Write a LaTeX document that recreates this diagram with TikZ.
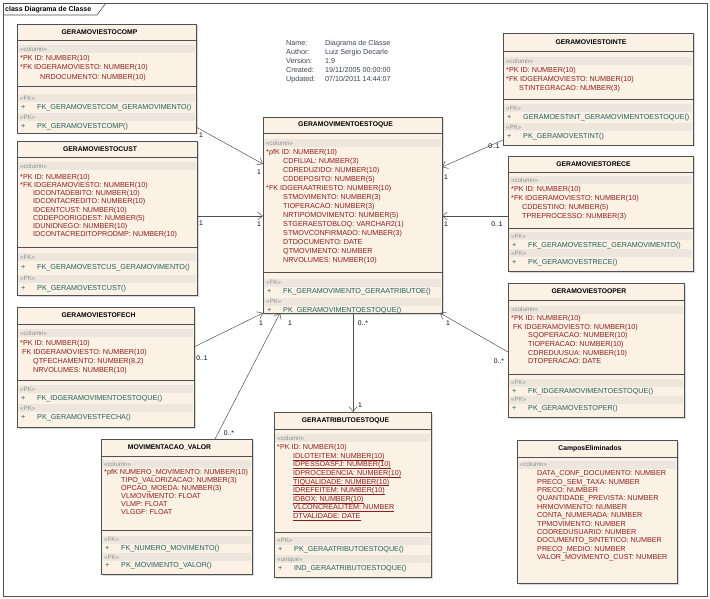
\documentclass[tikz,border=0pt]{standalone}
\usepackage{fontspec}
\setmainfont{Liberation Sans}
\usepackage{tikz}
\usetikzlibrary{arrows.meta,shadows}

\definecolor{boxfill}{HTML}{FBF1E4}
\definecolor{bandfill}{HTML}{ECE6DD}
\definecolor{colred}{HTML}{8E1D1D}
\definecolor{opteal}{HTML}{1F5E5E}
\definecolor{stgray}{HTML}{8C8C8C}
\definecolor{infoclr}{HTML}{3B4256}
\definecolor{lineclr}{HTML}{505050}

\newcommand{\rowfont}{\fontsize{7.2}{8}\selectfont}
\newcommand{\ttlfont}{\fontsize{6.8}{8}\selectfont\bfseries}
\newcommand{\stfont}{\fontsize{6.2}{7}\selectfont}
\newcommand{\multfont}{\fontsize{6.8}{8}\selectfont}
% underlined column (rule just under the text)
\newcommand{\ucol}[1]{\setbox0\hbox{#1}\rlap{\rule[-1.9pt]{\wd0}{0.45pt}}\box0}

% class frame: name, left, top, right, bottom, title line, title
\newcommand{\umlclass}[7]{%
  \node[classbox,minimum width={(#4-#2)*1pt},minimum height={(#5-#3)*1pt}] (#1) at (#2,#3) {};
  \draw[boxline] (#2,#6) -- (#4,#6);
  \node[classtitle] (#1-title) at ({(#2+#4)/2-7},{(#3+#6)/2}) {#7};
}
% stereotype band: name, left, right, y, text
\newcommand{\umlband}[5]{%
  \fill[bandfill] (#2+1,#4-4) rectangle (#3-1,#4+4);
  \node[stereo] (#1) at (#2+3,#4) {#5};
}
% columns: name, left, first y, step, indent/text
\newcommand{\umlcols}[5]{%
  \foreach \dx/\txt [count=\i from 0] in {#5} {
    \node[coltxt] (#1-c\i) at (#2+\dx,#3+\i*#4) {\txt};
  }
}
% operation: name, left, y, text
\newcommand{\umlop}[4]{%
  \node[optxt] (#1-plus) at (#2+4,#3) {+};
  \node[optxt] (#1) at (#2+20,#3) {#4};
}
% compartment line: left, right, y
\newcommand{\umlsep}[3]{\draw[boxline] (#1,#3) -- (#2,#3);}

\begin{document}
\begin{tikzpicture}[x=1pt,y=-1pt,
  classbox/.style={draw=lineclr,fill=boxfill,line width=0.6pt,anchor=north west,inner sep=0pt,outer sep=0pt,
    drop shadow={shadow xshift=1.5pt,shadow yshift=-1.5pt,fill=black!30}},
  boxline/.style={draw=lineclr,line width=0.6pt},
  classtitle/.style={font=\ttlfont,inner sep=0pt},
  stereo/.style={font=\stfont,text=stgray,anchor=west,inner sep=0pt,text height=4.4pt,text depth=0pt},
  coltxt/.style={font=\rowfont,text=colred,anchor=west,inner sep=0pt,text height=5.2pt,text depth=0pt},
  optxt/.style={font=\rowfont,text=opteal,anchor=west,inner sep=0pt,text height=5.2pt,text depth=0pt},
  infotxt/.style={font=\rowfont,text=infoclr,anchor=west,inner sep=0pt,text height=5.2pt,text depth=0pt},
  assoc/.style={draw=lineclr,line width=0.5pt,-{Straight Barb[length=5pt,width=8pt]}},
  mult/.style={font=\multfont,inner sep=0pt}]
\useasboundingbox (0,0) rectangle (710,599);

% frame
\draw[boxline] (3,3) rectangle (707,596);
\draw[boxline] (3,15) -- (97,15) -- (106,3);
\node[font=\fontsize{7}{8}\selectfont\bfseries,anchor=west,inner sep=0pt] (frame) at (5,9.5) {class Diagrama de Classe};

% diagram info
\foreach \k/\v [count=\i from 0] in {Name:/Diagrama de Classe,Author:/Luiz Sergio Decarle,Version:/1.9,
  Created:/{19/11/2005 00:00:00},Updated:/{07/10/2011 14:44:07}} {
  \node[infotxt] (info-k\i) at (286,43+\i*9) {\k};
  \node[infotxt] (info-v\i) at (325,43+\i*9) {\v};
}

% GERAMOVIESTOCOMP
\umlclass{comp}{17}{24}{196}{133}{40}{GERAMOVIESTOCOMP}
\umlband{comp-col}{17}{196}{49}{«column»}
\umlcols{comp}{17}{57.5}{9.5}{3/{*PK ID: NUMBER(10)},3/{*FK IDGERAMOVIESTO: NUMBER(10)},23/{NRDOCUMENTO: NUMBER(10)}}
\umlsep{17}{196}{86}
\umlband{comp-fk}{17}{196}{98}{«FK»}
\umlop{comp-op1}{17}{107}{FK\_GERAMOVESTCOM\_GERAMOVIMENTO()}
\umlband{comp-pk}{17}{196}{117}{«PK»}
\umlop{comp-op2}{17}{126}{PK\_GERAMOVESTCOMP()}

% GERAMOVIESTOCUST
\umlclass{cust}{17}{141}{197}{295}{157}{GERAMOVIESTOCUST}
\umlband{cust-col}{17}{197}{166}{«column»}
\umlcols{cust}{17}{176.5}{8.25}{3/{*PK ID: NUMBER(10)},3/{*FK IDGERAMOVIESTO: NUMBER(10)},16/{IDCONTADEBITO: NUMBER(10)},
  16/{IDCONTACREDITO: NUMBER(10)},16/{IDCENTCUST: NUMBER(10)},16/{CDDEPOORIGDEST: NUMBER(5)},
  16/{IDUNIDNEGO: NUMBER(10)},16/{IDCONTACREDITOPRODMP: NUMBER(10)}}
\umlsep{17}{197}{247}
\umlband{cust-fk}{17}{197}{257}{«FK»}
\umlop{cust-op1}{17}{266.5}{FK\_GERAMOVESTCUS\_GERAMOVIMENTO()}
\umlband{cust-pk}{17}{197}{278.5}{«PK»}
\umlop{cust-op2}{17}{288}{PK\_GERAMOVESTCUST()}

% GERAMOVIESTOFECH
\umlclass{fech}{17}{307}{194}{427}{324}{GERAMOVIESTOFECH}
\umlband{fech-col}{17}{194}{333}{«column»}
\umlcols{fech}{17}{343}{9}{3/{*PK ID: NUMBER(10)},5/{FK IDGERAMOVIESTO: NUMBER(10)},16/{QTFECHAMENTO: NUMBER(8,2)},
  16/{NRVOLUMES: NUMBER(10)}}
\umlsep{17}{194}{380}
\umlband{fech-fk}{17}{194}{389}{«PK»}
\umlop{fech-op1}{17}{398}{FK\_IDGERAMOVIMENTOESTOQUE()}
\umlband{fech-pk}{17}{194}{408}{«PK»}
\umlop{fech-op2}{17}{417}{PK\_GERAMOVESTFECHA()}

% MOVIMENTACAO_VALOR
\umlclass{valor}{101}{439}{252}{574}{456}{MOVIMENTACAO\_VALOR}
\umlband{valor-col}{101}{252}{464}{«column»}
\umlcols{valor}{101}{471.5}{8}{3/{*pfK NUMERO\_MOVIMENTO: NUMBER(10)},20/{TIPO\_VALORIZACAO: NUMBER(3)},
  20/{OPCAO\_MOEDA: NUMBER(3)},20/{VLMOVIMENTO: FLOAT},20/{VLMP: FLOAT},20/{VLGGF: FLOAT}}
\umlsep{101}{252}{530}
\umlband{valor-fk}{101}{252}{539.5}{«FK»}
\umlop{valor-op1}{101}{547.5}{FK\_NUMERO\_MOVIMENTO()}
\umlband{valor-pk}{101}{252}{557}{«PK»}
\umlop{valor-op2}{101}{565}{PK\_MOVIMENTO\_VALOR()}

% GERAMOVIMENTOESTOQUE
\umlclass{mov}{263}{117}{442}{313}{133}{GERAMOVIMENTOESTOQUE}
\umlband{mov-col}{263}{442}{143}{«column»}
\umlcols{mov}{263}{152}{9}{3/{*pfK ID: NUMBER(10)},20/{CDFILIAL: NUMBER(3)},20/{CDREDUZIDO: NUMBER(10)},
  20/{CDDEPOSITO: NUMBER(5)},3/{*FK IDGERAATRIESTO: NUMBER(10)},20/{STMOVIMENTO: NUMBER(3)},
  20/{TIOPERACAO: NUMBER(3)},20/{NRTIPOMOVIMENTO: NUMBER(5)},20/{STGERAESTOBLOQ: VARCHAR2(1)},
  20/{STMOVCONFIRMADO: NUMBER(3)},20/{DTDOCUMENTO: DATE},20/{QTMOVIMENTO: NUMBER},20/{NRVOLUMES: NUMBER(10)}}
\umlsep{263}{442}{272}
\umlband{mov-fk}{263}{442}{282.5}{«FK»}
\umlop{mov-op1}{263}{291}{FK\_GERAMOVIMENTO\_GERAATRIBUTOE()}
\umlband{mov-pk}{263}{442}{301.5}{«PK»}
\umlop{mov-op2}{263}{309.5}{PK\_GERAMOVIMENTOESTOQUE()}

% GERAATRIBUTOESTOQUE
\umlclass{atrib}{274}{412}{431}{577}{429}{GERAATRIBUTOESTOQUE}
\umlband{atrib-col}{274}{431}{438}{«column»}
\umlcols{atrib}{274}{447}{8.6}{3/{*PK ID: NUMBER(10)},19/{\ucol{IDLOTEITEM: NUMBER(10)}},
  19/{\ucol{IDPESSOASFJ: NUMBER(10)}},19/{\ucol{IDPROCEDENCIA: NUMBER(10)}},
  19/{\ucol{TIQUALIDADE: NUMBER(10)}},19/{\ucol{IDREFEITEM: NUMBER(10)}},
  19/{\ucol{IDBOX: NUMBER(10)}},19/{\ucol{VLCONCREALITEM: NUMBER}},19/{\ucol{DTVALIDADE: DATE}}}
\umlsep{274}{431}{532}
\umlband{atrib-pk}{274}{431}{540.5}{«PK»}
\umlop{atrib-op1}{274}{549}{PK\_GERAATRIBUTOESTOQUE()}
\umlband{atrib-uq}{274}{431}{559}{«unique»}
\umlop{atrib-op2}{274}{568}{IND\_GERAATRIBUTOESTOQUE()}

% GERAMOVIESTOINTE
\umlclass{inte}{503}{33}{693}{145}{51}{GERAMOVIESTOINTE}
\umlband{inte-col}{503}{693}{61}{«column»}
\umlcols{inte}{503}{70}{9}{3/{*PK ID: NUMBER(10)},3/{*FK IDGERAMOVIESTO: NUMBER(10)},16/{STINTEGRACAO: NUMBER(3)}}
\umlsep{503}{693}{99}
\umlband{inte-fk}{503}{693}{108}{«FK»}
\umlop{inte-op1}{503}{117}{GERAMOESTINT\_GERAMOVIMENTOESTOQUE()}
\umlband{inte-pk}{503}{693}{127.5}{«PK»}
\umlop{inte-op2}{503}{136}{PK\_GERAMOVESTINT()}

% GERAMOVIESTORECE
\umlclass{rece}{508}{156}{693}{271}{172}{GERAMOVIESTORECE}
\umlband{rece-col}{508}{693}{180.5}{«column»}
\umlcols{rece}{508}{189}{9}{3/{*PK ID: NUMBER(10)},3/{*FK IDGERAMOVIESTO: NUMBER(10)},14/{CDDESTINO: NUMBER(5)},
  14/{TPREPROCESSO: NUMBER(3)}}
\umlsep{508}{693}{228}
\umlband{rece-fk}{508}{693}{236}{«FK»}
\umlop{rece-op1}{508}{244.5}{FK\_GERAMOVESTREC\_GERAMOVIMENTO()}
\umlband{rece-pk}{508}{693}{253}{«PK»}
\umlop{rece-op2}{508}{262}{PK\_GERAMOVESTRECE()}

% GERAMOVIESTOOPER
\umlclass{oper}{508}{283}{684}{417}{300}{GERAMOVIESTOOPER}
\umlband{oper-col}{508}{684}{309.5}{«column»}
\umlcols{oper}{508}{318}{8.6}{3/{*PK ID: NUMBER(10)},5/{FK IDGERAMOVIESTO: NUMBER(10)},20/{SQOPERACAO: NUMBER(10)},
  20/{TIOPERACAO: NUMBER(10)},20/{CDREDUUSUA: NUMBER(10)},20/{DTOPERACAO: DATE}}
\umlsep{508}{684}{374}
\umlband{oper-fk}{508}{684}{382.5}{«FK»}
\umlop{oper-op1}{508}{391}{FK\_IDGERAMOVIMENTOESTOQUE()}
\umlband{oper-pk}{508}{684}{399.5}{«PK»}
\umlop{oper-op2}{508}{408}{PK\_GERAMOVESTOPER()}

% CamposEliminados
\umlclass{campos}{517}{440}{677}{583}{457}{CamposEliminados}
\umlband{campos-col}{517}{677}{464.5}{«column»}
\umlcols{campos}{517}{473}{8.4}{20/{DATA\_CONF\_DOCUMENTO: NUMBER},20/{PRECO\_SEM\_TAXA: NUMBER},20/{PRECO: NUMBER},
  20/{QUANTIDADE\_PREVISTA: NUMBER},20/{HRMOVIMENTO: NUMBER},20/{CONTA\_NUMERADA: NUMBER},
  20/{TPMOVIMENTO: NUMBER},20/{CODREDUSUARIO: NUMBER},20/{DOCUMENTO\_SINTETICO: NUMBER},
  20/{PRECO\_MEDIO: NUMBER},20/{VALOR\_MOVIMENTO\_CUST: NUMBER}}

% associations
\draw[assoc] (comp.east |- 0,127) -- (mov.west |- 0,164)
  node[mult,at start,shift={(5,8)}] (m1a) {1} node[mult,at end,shift={(-4,8)}] (m1b) {1};
\draw[assoc] (cust.east |- 0,216) -- (mov.west |- 0,216)
  node[mult,at start,shift={(4,7)}] (m2a) {1} node[mult,at end,shift={(-4,8)}] (m2b) {1};
\draw[assoc] (fech.east |- 0,347) -- (mov.south west)
  node[mult,at start,shift={(8,11)}] (m3a) {0..1} node[mult,at end,shift={(-2,10)}] (m3b) {1};
\draw[assoc] (valor.north -| 215,0) -- (mov.south -| 280,0)
  node[mult,at start,shift={(14,-6)}] (m4a) {0..*} node[mult,at end,shift={(10,10)}] (m4b) {1};
\draw[assoc] (inte.west |- 0,140) -- (mov.east |- 0,167)
  node[mult,at start,shift={(-9,6)}] (m5a) {0..1} node[mult,at end,shift={(4,10)}] (m5b) {1};
\draw[assoc] (rece.west |- 0,216) -- (mov.east |- 0,216)
  node[mult,at start,shift={(-11,8)}] (m6a) {0..1} node[mult,at end,shift={(4,8)}] (m6b) {1};
\draw[assoc] (oper.west |- 0,352) -- (mov.south -| 440,0)
  node[mult,at start,shift={(-9,9)}] (m7a) {0..*} node[mult,at end,shift={(8,10)}] (m7b) {1};
\draw[assoc] (mov.south -| 353,0) -- (atrib.north -| 353,0)
  node[mult,at start,shift={(10,10)}] (m8a) {0..*} node[mult,at end,shift={(7,-7)}] (m8b) {1};
\end{tikzpicture}
\end{document}
